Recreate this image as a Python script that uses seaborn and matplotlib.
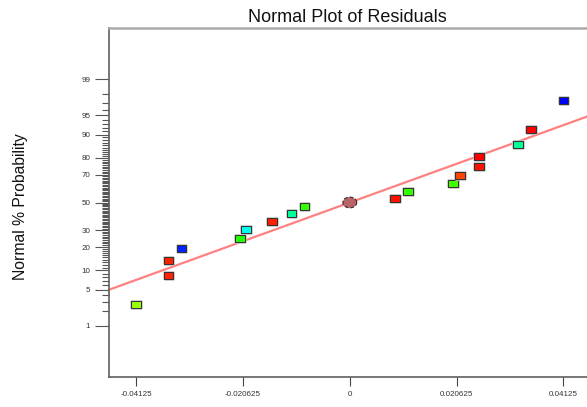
import numpy as np
import pandas as pd
import matplotlib
matplotlib.use("Agg")
import matplotlib.pyplot as plt
import seaborn as sns
from matplotlib import patheffects as pe
from matplotlib.ticker import FixedLocator, NullFormatter
from statistics import NormalDist

# ---------------- data ----------------
residuals = [-0.04125, -0.035, -0.035, -0.0325, -0.02125, -0.02, -0.015, -0.01125, -0.00875,
             0.00875, 0.01125, 0.02, 0.02125, 0.025, 0.025, 0.0325, 0.035, 0.04125]
probabilities = [2.78, 8.33, 13.89, 19.44, 25.0, 30.56, 36.11, 41.67, 47.22,
                 52.78, 58.33, 63.89, 69.44, 75.0, 80.56, 86.11, 91.67, 97.22]
point_colors = ["#99ff00", "#ff2200", "#ff2200", "#0022ff", "#22ff00", "#00ffee", "#ff2000",
                "#00ff99", "#33ff00", "#ff1100", "#33ff00", "#44ff00", "#ff4400", "#ff1100",
                "#ff0000", "#00ff99", "#ff0000", "#0000ff"]
center_residual = [0.0]
center_probability = [50.0]
fit_residual = [-0.0465, 0.0465]
fit_probability = [5.0, 95.0]
y_major = [1, 5, 10, 20, 30, 50, 70, 80, 90, 95, 99]
y_minor = [v for v in range(2, 99) if v not in y_major]
x_ticks = [-0.04125, -0.020625, 0.0, 0.020625, 0.04125]
x_labels = ["-0.04125", "-0.020625", "0", "0.020625", "0.04125"]

# ---------------- probit scale ----------------
nd = NormalDist()
_ppf = np.vectorize(nd.inv_cdf, otypes=[float])
_cdf = np.vectorize(nd.cdf, otypes=[float])


def forward(p):
    p = np.clip(np.asarray(p, dtype=float) / 100.0, 1e-9, 1 - 1e-9)
    return _ppf(p)


def inverse(z):
    return _cdf(np.asarray(z, dtype=float)) * 100.0


sns.set_theme(style="white")
plt.rcParams["font.family"] = ["Liberation Sans", "DejaVu Sans"]

fig = plt.figure(figsize=(5.87, 4.07), dpi=100)
ax = fig.add_axes([109 / 587, 30 / 407, 481.6 / 587, 349 / 407])
ax.set_yscale("function", functions=(forward, inverse))

df = pd.DataFrame({"residual": residuals, "probability": probabilities,
                   "color": point_colors})

# fitted line
sns.lineplot(x=fit_residual, y=fit_probability, ax=ax, color="#ff8080", lw=1.6,
             zorder=2, estimator=None, sort=False)

# rectangular markers
rect = [(-1.4, -1.0), (1.4, -1.0), (1.4, 1.0), (-1.4, 1.0), (-1.4, -1.0)]
sns.scatterplot(data=df, x="residual", y="probability", hue="color",
                palette={c: c for c in point_colors}, marker=rect, s=50,
                edgecolor="#333333", linewidth=0.75, legend=False, ax=ax, zorder=4)
for coll in ax.collections:
    coll.set_path_effects([pe.withStroke(linewidth=1.9, foreground="#c8c8c8")])

# center ellipse
t = np.linspace(0, 2 * np.pi, 40)
ell = list(zip(1.3 * np.cos(t), 1.0 * np.sin(t)))
ax.scatter(center_residual, center_probability, marker=ell, s=100, c="#b86466",
           edgecolors="#3a2a2a", linewidths=0.8, linestyle="--", zorder=5)

ax.set_xlim(-0.0465, 0.0465)
ax.set_ylim(0.05, 99.95)

ax.set_xticks(x_ticks)
ax.set_xticklabels(x_labels)
ax.yaxis.set_major_locator(FixedLocator(y_major))
ax.yaxis.set_minor_locator(FixedLocator(y_minor))
ax.yaxis.set_minor_formatter(NullFormatter())
ax.set_yticklabels([str(v) for v in y_major])

ax.tick_params(axis="x", which="major", direction="out", length=6.5, width=0.8,
               color="#444444", labelsize=5.8, labelcolor="#333333", pad=3.5, bottom=True)
ax.tick_params(axis="y", which="major", direction="out", length=10, width=0.8,
               color="#555555", labelsize=5.8, labelcolor="#333333", pad=3.5, left=True)
ax.tick_params(axis="y", which="minor", direction="out", length=5, width=0.8,
               color="#555555", left=True)

for side in ["left", "bottom"]:
    ax.spines[side].set_color("#606060")
    ax.spines[side].set_linewidth(1.2)
ax.spines["top"].set_color("#aaaaaa")
ax.spines["top"].set_linewidth(1.8)
ax.spines["right"].set_visible(False)
ax.grid(False)
ax.set_xlabel("")
ax.set_ylabel("")

fig.text(347 / 587, (407 - 17) / 407, "Normal Plot of Residuals", ha="center",
         va="center", fontsize=13, color="#111111")
fig.text(21 / 587, (407 - 207) / 407, "Normal % Probability", rotation=90,
         ha="center", va="center", fontsize=11.3, color="#111111")

fig.savefig("out.png", dpi=100)
